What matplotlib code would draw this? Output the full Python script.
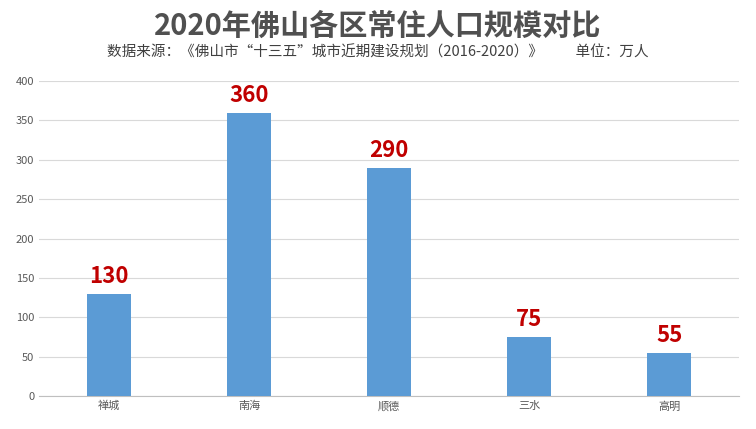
import matplotlib
matplotlib.use("Agg")
import matplotlib.pyplot as plt

plt.rcParams['font.family'] = ['Noto Sans CJK SC', 'DejaVu Sans']

districts = ["禅城", "南海", "顺德", "三水", "高明"]
population = [130, 360, 290, 75, 55]
yticks = [0, 50, 100, 150, 200, 250, 300, 350, 400]

fig = plt.figure(figsize=(7.56, 4.29), dpi=100)
ax = fig.add_axes([0.0516, 0.0769, 0.926, 0.734])
x = range(len(districts))
ax.bar(x, population, width=0.31, color="#5b9bd5", zorder=3)
for i, v in zip(x, population):
    ax.text(i, v + 7, str(v), ha="center", va="bottom", color="#c00000",
            fontsize=16, fontweight="bold")
ax.set_xlim(-0.5, 4.5)
ax.set_ylim(0, 400)
ax.set_yticks(yticks)
ax.set_xticks(list(x))
ax.set_xticklabels(districts)
ax.tick_params(axis="both", length=0, colors="#595959", labelsize=8)
ax.grid(axis="y", color="#d9d9d9", linewidth=0.8, zorder=0)
for s in ["top", "right", "left"]:
    ax.spines[s].set_visible(False)
ax.spines["bottom"].set_color("#bfbfbf")

fig.text(0.5, 0.94, "2020年佛山各区常住人口规模对比", ha="center", va="center",
         fontsize=21, fontweight="bold", color="#505050")
fig.text(0.5, 0.877, "数据来源：《佛山市“十三五”城市近期建设规划（2016-2020）》          单位：万人",
         ha="center", va="center", fontsize=10.5, color="#404040")
fig.savefig("out.png", dpi=100)
